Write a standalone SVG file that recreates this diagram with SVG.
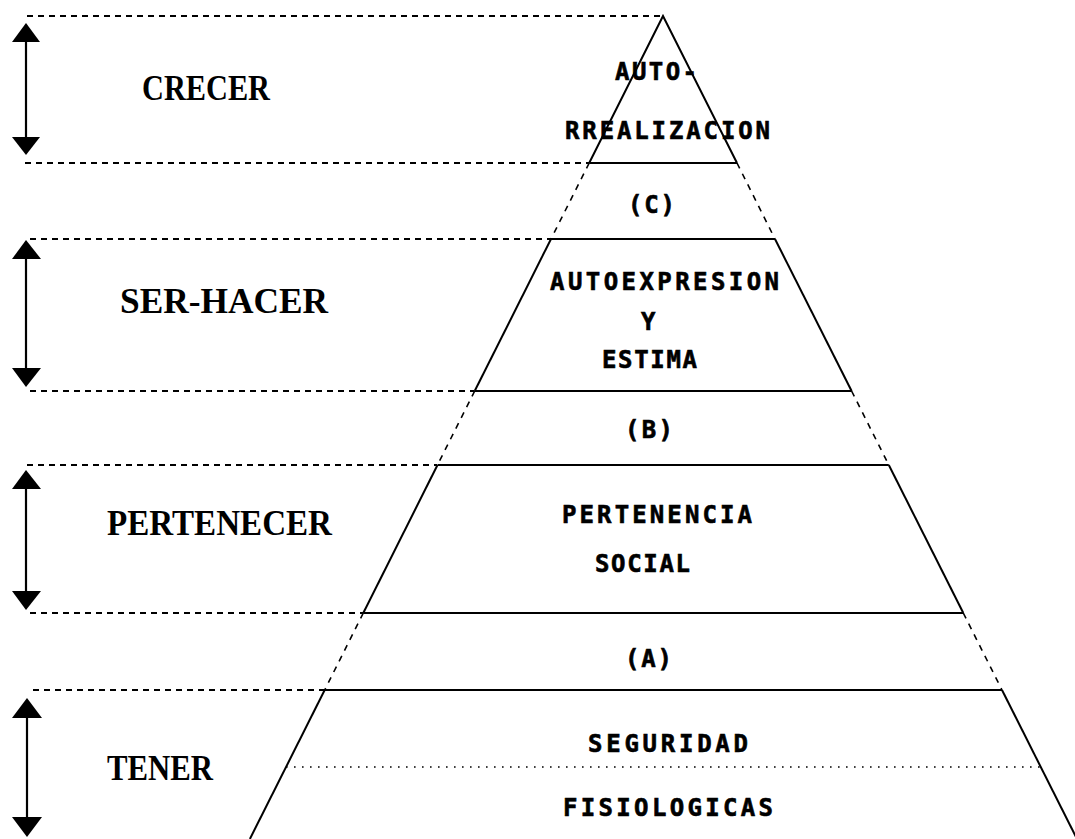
<svg xmlns="http://www.w3.org/2000/svg" width="1075" height="839" viewBox="0 0 1075 839">
<defs>
<style>
.bg{fill:#fff}
.solid{stroke:#000;stroke-width:2;fill:none}
.dash{stroke:#000;stroke-width:2;fill:none;stroke-dasharray:6 5}
.edash{stroke:#000;stroke-width:1.6;fill:none;stroke-dasharray:6 6}
.dot{stroke:#000;stroke-width:1.6;fill:none;stroke-dasharray:1.6 6.4}
.side{font-family:"Liberation Serif","Times New Roman",serif;font-weight:bold;font-size:36px;fill:#000}
.tier{font-family:"DejaVu Sans Mono","Liberation Mono",monospace;font-weight:bold;font-size:24px;fill:#000;stroke:#000;stroke-width:0.6}
.arr{stroke:#000;stroke-width:2.2;fill:none}
.head{fill:#000}
</style>
</defs>
<rect class="bg" x="0" y="0" width="1075" height="839"/>

<g id="guides">
<line class="dash" x1="27" y1="16" x2="660" y2="16"/>
<line class="dash" x1="25" y1="163" x2="589" y2="163"/>
<line class="dash" x1="30" y1="239" x2="551" y2="239"/>
<line class="dash" x1="30" y1="391" x2="474" y2="391"/>
<line class="dash" x1="27" y1="465" x2="437" y2="465"/>
<line class="dash" x1="30" y1="613" x2="363" y2="613"/>
<line class="dash" x1="33" y1="690" x2="325" y2="690"/>
</g>

<g id="pyramid-edges">
<polyline class="solid" points="589.2,163 663,16 737,163"/>
<line class="edash" x1="589.2" y1="163" x2="551" y2="239"/>
<line class="edash" x1="737" y1="163" x2="775" y2="239"/>
<line class="solid" x1="551" y1="239" x2="474.7" y2="391"/>
<line class="solid" x1="775" y1="239" x2="851.6" y2="391"/>
<line class="edash" x1="474.7" y1="391" x2="437.5" y2="465"/>
<line class="edash" x1="851.6" y1="391" x2="888.8" y2="465"/>
<line class="solid" x1="437.5" y1="465" x2="363.3" y2="613"/>
<line class="solid" x1="888.8" y1="465" x2="963.3" y2="613"/>
<line class="edash" x1="363.3" y1="613" x2="324.7" y2="690"/>
<line class="edash" x1="963.3" y1="613" x2="1002" y2="690"/>
<line class="solid" x1="324.7" y1="690" x2="249.9" y2="839"/>
<line class="solid" x1="1002" y1="690" x2="1077" y2="839"/>
</g>

<g id="tier-autorrealizacion">
<text class="tier" x="615" y="80" textLength="82" lengthAdjust="spacing">AUTO-</text>
<text class="tier" x="565" y="139" textLength="205" lengthAdjust="spacing">RREALIZACION</text>
</g>
<g id="tier-c">
<line class="solid" x1="589.2" y1="163" x2="737" y2="163"/>
<text class="tier" x="628" y="213" textLength="47" lengthAdjust="spacing">(C)</text>
</g>
<g id="tier-autoexpresion">
<line class="solid" x1="551" y1="239" x2="775" y2="239"/>
<text class="tier" x="550" y="290" textLength="229" lengthAdjust="spacing">AUTOEXPRESION</text>
<text class="tier" x="641" y="330">Y</text>
<text class="tier" x="602" y="368" textLength="95" lengthAdjust="spacing">ESTIMA</text>
</g>
<g id="tier-b">
<line class="solid" x1="474.7" y1="391" x2="851.6" y2="391"/>
<text class="tier" x="625" y="438" textLength="48" lengthAdjust="spacing">(B)</text>
</g>
<g id="tier-pertenencia">
<line class="solid" x1="437.5" y1="465" x2="888.8" y2="465"/>
<text class="tier" x="562" y="523" textLength="190" lengthAdjust="spacing">PERTENENCIA</text>
<text class="tier" x="595" y="572" textLength="95" lengthAdjust="spacing">SOCIAL</text>
</g>
<g id="tier-a">
<line class="solid" x1="363.3" y1="613" x2="963.3" y2="613"/>
<text class="tier" x="625" y="667" textLength="47" lengthAdjust="spacing">(A)</text>
</g>
<g id="tier-seguridad">
<line class="solid" x1="324.7" y1="690" x2="1002" y2="690"/>
<text class="tier" x="588" y="752" textLength="160" lengthAdjust="spacing">SEGURIDAD</text>
</g>
<g id="tier-fisiologicas">
<line class="dot" x1="286" y1="767" x2="1040" y2="767"/>
<text class="tier" x="563" y="816" textLength="210" lengthAdjust="spacing">FISIOLOGICAS</text>
</g>

<g id="label-crecer"><text class="side" x="142" y="100" textLength="128" lengthAdjust="spacingAndGlyphs">CRECER</text></g>
<g id="label-ser-hacer"><text class="side" x="120" y="313" textLength="208" lengthAdjust="spacingAndGlyphs">SER-HACER</text></g>
<g id="label-pertenecer"><text class="side" x="107" y="535" textLength="225" lengthAdjust="spacingAndGlyphs">PERTENECER</text></g>
<g id="label-tener"><text class="side" x="107" y="780" textLength="106" lengthAdjust="spacingAndGlyphs">TENER</text></g>

<g id="connectors">
<line class="arr" x1="26" y1="40" x2="26" y2="140"/>
<polygon class="head" points="26,23 12,42 40,42"/>
<polygon class="head" points="26,155 12,137 40,137"/>
<line class="arr" x1="26" y1="256" x2="26" y2="371"/>
<polygon class="head" points="26,240 12,259 41,259"/>
<polygon class="head" points="26,387 12,368 41,368"/>
<line class="arr" x1="26" y1="486" x2="26" y2="594"/>
<polygon class="head" points="26,470 12,489 41,489"/>
<polygon class="head" points="26,610 12,591 41,591"/>
<line class="arr" x1="27" y1="715" x2="27" y2="820"/>
<polygon class="head" points="27,698 12,718 42,718"/>
<polygon class="head" points="27,837 12,817 42,817"/>
</g>
</svg>
